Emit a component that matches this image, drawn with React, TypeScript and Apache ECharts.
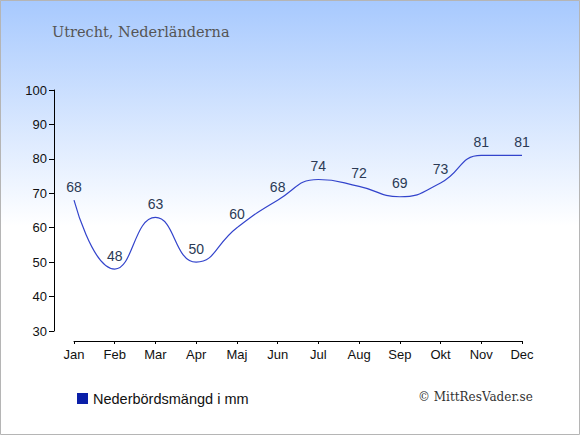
import React, { useEffect, useRef } from "react";
import * as echarts from "echarts";

const months = ["Jan", "Feb", "Mar", "Apr", "Maj", "Jun", "Jul", "Aug", "Sep", "Okt", "Nov", "Dec"];
const precipitation = [68, 48, 63, 50, 60, 68, 74, 72, 69, 73, 81, 81];
const seriesName = "Nederbördsmängd i mm";
const titleText = "Utrecht, Nederländerna";
const creditText = "© MittResVader.se";

export default function App() {
  const ref = useRef<HTMLDivElement>(null);
  useEffect(() => {
    if (!ref.current) return;
    const chart = echarts.init(ref.current, undefined, { renderer: "svg" });
    chart.setOption({
      animation: false,
      backgroundColor: {
        type: "linear",
        x: 0,
        y: 0,
        x2: 0,
        y2: 1,
        colorStops: [
          { offset: 0, color: "#a7c9fe" },
          { offset: 0.52, color: "#ffffff" },
          { offset: 1, color: "#ffffff" },
        ],
      },
      graphic: [
        {
          type: "rect",
          shape: { x: 0.5, y: 0.5, width: 579, height: 434 },
          style: { fill: "none", stroke: "#b5b5b5", lineWidth: 1 },
          silent: true,
        },
        {
          type: "text",
          left: 52,
          top: 24,
          style: { text: titleText, fill: "#555555", font: "14.5px 'DejaVu Serif'" },
        },
        {
          type: "text",
          left: 418,
          top: 391,
          style: { text: creditText, fill: "#333333", font: "12px 'DejaVu Serif'" },
        },
      ],
      legend: {
        left: 77,
        top: 391,
        padding: 0,
        icon: "rect",
        itemWidth: 11,
        itemHeight: 11,
        itemGap: 6,
        textStyle: { fontFamily: "Liberation Sans", fontSize: 14.5, color: "#111111" },
        data: [{ name: seriesName, itemStyle: { color: "#0a1fa8" } }],
      },
      grid: { left: 74, right: 58, top: 90, bottom: 104, containLabel: false },
      xAxis: {
        type: "category",
        data: months,
        boundaryGap: false,
        offset: 10,
        axisLine: { lineStyle: { color: "#000", width: 1 } },
        axisTick: { show: true, length: 3, alignWithLabel: true, lineStyle: { color: "#000" } },
        axisLabel: { color: "#111", fontFamily: "Liberation Sans", fontSize: 13, margin: 7 },
        splitLine: { show: false },
      },
      yAxis: {
        type: "value",
        min: 30,
        max: 100,
        interval: 10,
        offset: 20,
        axisLine: { show: true, lineStyle: { color: "#000", width: 1 } },
        axisTick: { show: true, length: 5, lineStyle: { color: "#000" } },
        axisLabel: { color: "#111", fontFamily: "Liberation Sans", fontSize: 13, margin: 7 },
        splitLine: { show: false },
      },
      series: [
        {
          name: seriesName,
          type: "line",
          data: precipitation,
          smooth: 0.5,
          symbol: "circle",
          symbolSize: 1,
          showAllSymbol: true,
          lineStyle: { color: "#3344cc", width: 1.2 },
          itemStyle: { color: "rgba(0,0,0,0)" },
          label: {
            show: true,
            position: "top",
            distance: 6,
            color: "#2b3a55",
            fontFamily: "Liberation Sans",
            fontSize: 14,
          },
        },
      ],
    });
    return () => chart.dispose();
  }, []);
  return (
    <div
      ref={ref}
      style={{ position: "absolute", left: 0, top: 0, width: 580, height: 435 }}
    />
  );
}
